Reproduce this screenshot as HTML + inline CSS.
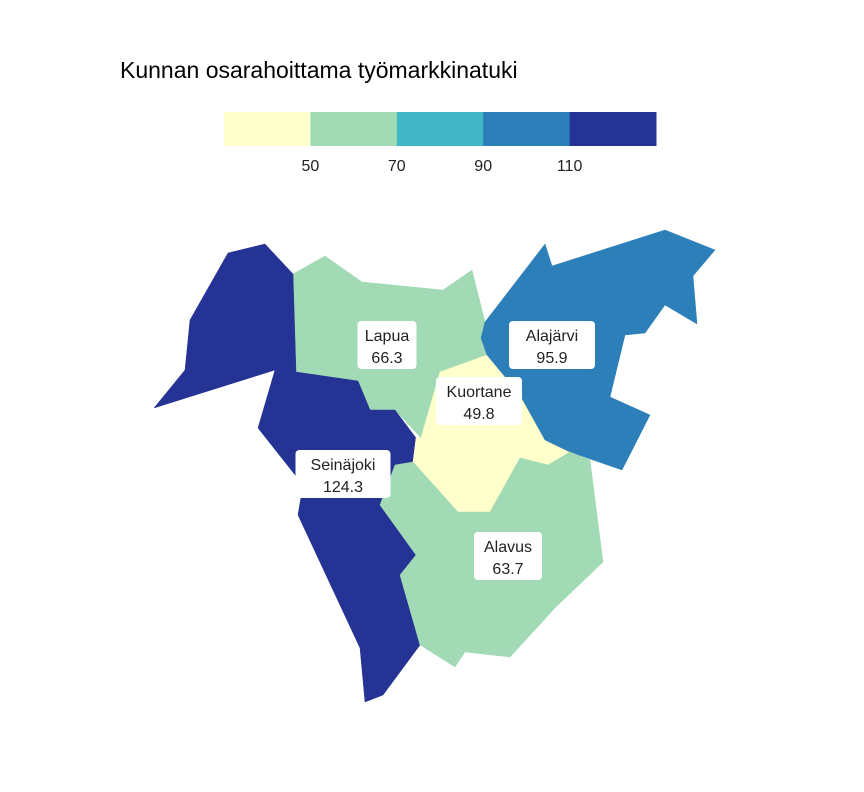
<!DOCTYPE html>
<html><head><meta charset="utf-8"><style>
body{margin:0;background:#fff;}
svg{display:block;font-family:"Liberation Sans",sans-serif;}
</style></head><body>
<svg id="chart" width="864" height="792">
<text x="120" y="78" font-size="23" fill="#000">Kunnan osarahoittama työmarkkinatuki</text>
<g id="legend"></g>
<g id="map"></g>
<g id="labels"></g>
</svg>
<script>
const municipalities = ["Lapua","Seinäjoki","Kuortane","Alajärvi","Alavus"];
const values = [66.3, 124.3, 49.8, 95.9, 63.7];
const breaks = [50, 70, 90, 110];
const palette = ["#ffffcc","#a1dab4","#41b6c4","#2c7fb8","#253494"];
const shapes = {
 "Lapua":[[293,274],[325,256],[362,282],[443,290],[472,270],[485,322],[481,338],[487,355],[440,372],[421,438],[395,410],[370,410],[358,381],[296,372]],
 "Seinäjoki":[[154,408],[185,370],[190,320],[228,253],[265,244],[293,274],[296,372],[358,381],[370,410],[395,410],[416,438],[413,462],[395,465],[380,505],[416,555],[400,575],[420,645],[383,695],[365,702],[360,648],[298,515],[303,485],[258,428],[275,370]],
 "Kuortane":[[440,372],[487,355],[520,395],[545,440],[570,452],[548,465],[520,458],[490,512],[458,512],[413,462],[416,438],[421,438]],
 "Alajärvi":[[481,338],[485,322],[545,244],[552,266],[665,230],[715,250],[693,276],[697,324],[665,305],[645,333],[625,335],[610,397],[650,415],[622,470],[570,452],[545,440],[520,395],[487,355]],
 "Alavus":[[413,462],[458,512],[490,512],[520,458],[548,465],[570,452],[590,460],[603,562],[555,608],[510,657],[465,652],[455,667],[420,645],[400,575],[416,555],[380,505],[395,465]]
};
const labelPos = {"Lapua":[387,345],"Seinäjoki":[343,474],"Kuortane":[479,401],"Alajärvi":[552,345],"Alavus":[508,556]};
const NS="http://www.w3.org/2000/svg";
function colorFor(v){let i=0;while(i<breaks.length&&v>=breaks[i])i++;return palette[i];}
const lg=document.getElementById('legend');
const lx0=224,lw=86.4,ly=112,lh=34;
palette.forEach((c,i)=>{
 const r=document.createElementNS(NS,'rect');
 r.setAttribute('x',lx0+i*lw);r.setAttribute('y',ly);r.setAttribute('width',lw+0.5);r.setAttribute('height',lh);r.setAttribute('fill',c);
 
 
 lg.appendChild(r);
});
breaks.forEach((b,i)=>{
 const t=document.createElementNS(NS,'text');
 t.setAttribute('x',lx0+(i+1)*lw);t.setAttribute('y',171);t.setAttribute('text-anchor','middle');t.setAttribute('font-size','16');t.setAttribute('fill','#222');
 t.textContent=b;
 
 
 lg.appendChild(t);
});
const mg=document.getElementById('map'),lb=document.getElementById('labels');
municipalities.forEach((m,i)=>{
 const p=document.createElementNS(NS,'polygon');
 p.setAttribute('points',shapes[m].map(q=>q.join(',')).join(' '));
 p.setAttribute('fill',colorFor(values[i]));
 p.setAttribute('stroke',colorFor(values[i]));p.setAttribute('stroke-width','0.5');
 
 
 mg.appendChild(p);
});
municipalities.forEach((m,i)=>{
 const [cx,cy]=labelPos[m];
 const g=document.createElementNS(NS,'g');
 
 
 const w=Math.max(58,m.length*9+14);
 const r=document.createElementNS(NS,'rect');
 r.setAttribute('x',cx-w/2);r.setAttribute('y',cy-24);r.setAttribute('width',w);r.setAttribute('height',48);r.setAttribute('rx',4);r.setAttribute('fill','#fff');
 g.appendChild(r);
 [m,values[i].toFixed(1)].forEach((s,k)=>{
  const t=document.createElementNS(NS,'text');
  t.setAttribute('x',cx);t.setAttribute('y',cy-4+k*22);t.setAttribute('text-anchor','middle');t.setAttribute('font-size','16');t.setAttribute('fill','#222');
  t.textContent=s;g.appendChild(t);
 });
 lb.appendChild(g);
});
</script>
</body></html>
